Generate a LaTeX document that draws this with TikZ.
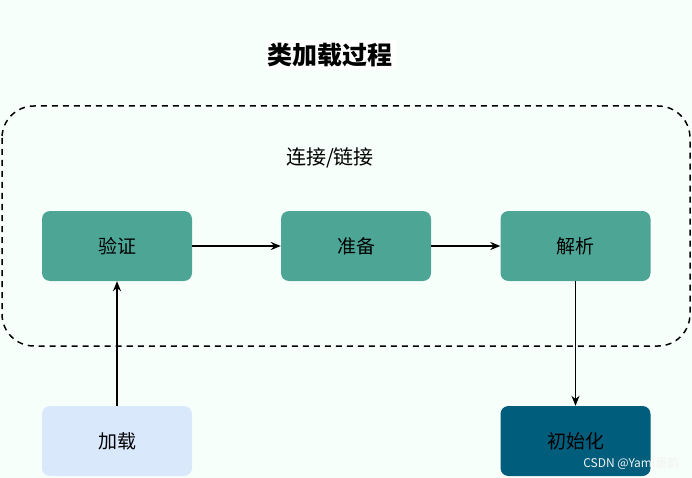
\documentclass[tikz,border=0pt]{standalone}
\usepackage{fontspec}
\setmainfont{Noto Sans CJK SC}
\newfontfamily\cjk{Noto Sans CJK SC}
\usetikzlibrary{arrows.meta}
\definecolor{bgmint}{RGB}{247,255,250}
\definecolor{tealbox}{RGB}{77,165,150}
\definecolor{lightblue}{RGB}{218,232,252}
\definecolor{darkblue}{RGB}{0,94,124}
\tikzset{
  proc/.style={rectangle, rounded corners=8pt, minimum width=150pt, minimum height=70pt, inner sep=0pt, font=\cjk\fontsize{19}{22}\selectfont, text=black},
  conn/.style={-{Stealth[length=10pt,width=8pt]}, line width=1.7pt, black},
}
\begin{document}
\begin{tikzpicture}[x=1pt,y=-1pt]
\useasboundingbox (0,0) rectangle (692,478);
\fill[bgmint] (0,0) rectangle (692,478);
\node[fill=white, inner sep=3pt, font=\cjk\bfseries\fontsize{25}{28}\selectfont] (title) at (330,55) {类加载过程};
\draw[line width=1.5pt, dash pattern=on 6pt off 5pt, rounded corners=32pt] (2,106) rectangle (690,346);
\node[font=\cjk\fontsize{20}{23}\selectfont] (lbl) at (330,158) {连接/链接};
\node[proc, fill=tealbox] (yz) at (117,246) {验证};
\node[proc, fill=tealbox] (zb) at (356,246) {准备};
\node[proc, fill=tealbox] (jx) at (575.5,246) {解析};
\node[proc, fill=lightblue] (jz) at (117,441) {加载};
\node[proc, fill=darkblue] (csh) at (575.5,441) {初始化};
\draw[conn] (jz.north) -- (yz.south);
\draw[conn] (yz.east) -- (zb.west);
\draw[conn] (zb.east) -- (jx.west);
\draw[conn] (jx.south) -- (csh.north);
\node[font=\cjk\fontsize{12}{14}\selectfont, text=white!90!gray, anchor=east] (wm) at (683,463) {CSDN @Yaml墨韵};
\end{tikzpicture}
\end{document}
